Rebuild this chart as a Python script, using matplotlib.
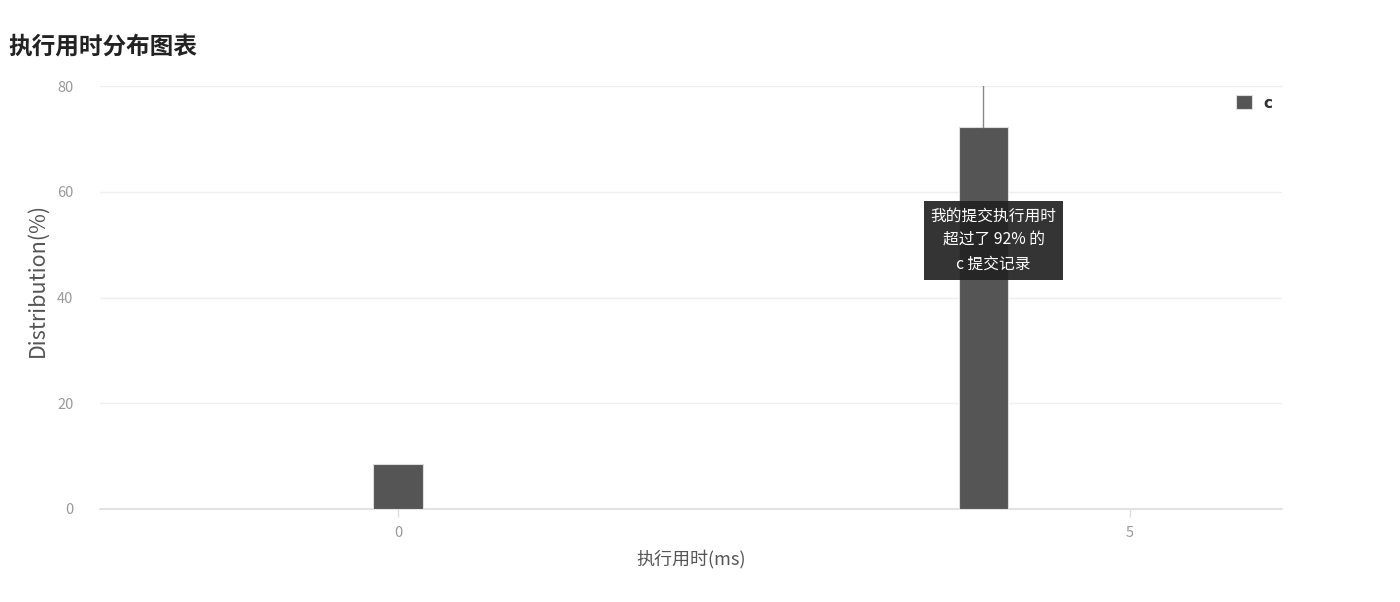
import matplotlib
matplotlib.use("Agg")
import matplotlib.pyplot as plt

plt.rcParams['font.family'] = ['Noto Sans CJK SC', 'DejaVu Sans']

title = "执行用时分布图表"
categories = [0, 4]
values = [8.6, 72.2]
series_name = "c"
xticks = [0, 5]
yticks = [0, 20, 40, 60, 80]
my_x = 4
tooltip = "我的提交执行用时\n超过了 92% 的\nc 提交记录"

fig = plt.figure(figsize=(14, 6.02), dpi=100)
ax = fig.add_axes([100/1400, 1-509/602, (1282-100)/1400, (509-86)/602])

bar_color = "#555555"
ax.bar(categories, values, width=0.34, color=bar_color, edgecolor="#dddddd",
       linewidth=0.8, label=series_name, zorder=3)

ax.set_xlim(-2.035, 6.04)
ax.set_ylim(0, 80)
ax.set_xticks(xticks)
ax.set_yticks(yticks)
ax.yaxis.grid(True, color="#efefef", linewidth=1, zorder=0)
ax.set_axisbelow(True)
for s in ["top", "right", "left"]:
    ax.spines[s].set_visible(False)
ax.spines["bottom"].set_color("#dddddd")
ax.spines["bottom"].set_linewidth(1.2)
ax.tick_params(axis="x", colors="#999999", length=6, width=1, pad=6, labelsize=10.5)
ax.tick_params(axis="x", color="#dddddd")
ax.tick_params(axis="y", colors="#999999", length=0, pad=19, labelsize=10.5)

ax.set_xlabel("执行用时(ms)", fontsize=13, color="#555555", labelpad=7)
ax.set_ylabel("Distribution(%)", fontsize=15.5, color="#555555", labelpad=5)
ax.yaxis.set_label_coords(-0.0435, 0.541)

# marker line above my bar
ax.plot([my_x, my_x], [values[1], 80], color="#888888", linewidth=1, zorder=4)

# tooltip
ax.text(my_x + 0.07, 50.8, tooltip, ha="center", va="center", color="white",
        fontsize=11.3, linespacing=1.55, zorder=6,
        bbox=dict(boxstyle="square,pad=0.42", facecolor="#222222", edgecolor="none", alpha=0.92))

leg = ax.legend(loc="center right", bbox_to_anchor=(0.9915, 0.96), frameon=False,
                handlelength=1.05, handleheight=1.05, handletextpad=0.7,
                prop={'family': 'DejaVu Sans', 'weight': 'bold', 'size': 11},
                borderaxespad=0, borderpad=0)
for t in leg.get_texts():
    t.set_color("#333333")

fig.text(8/1400, 1-47/602, title, fontsize=17, fontweight="bold", color="#222222",
         ha="left", va="center")

fig.savefig("out.png", dpi=100, facecolor="white")
